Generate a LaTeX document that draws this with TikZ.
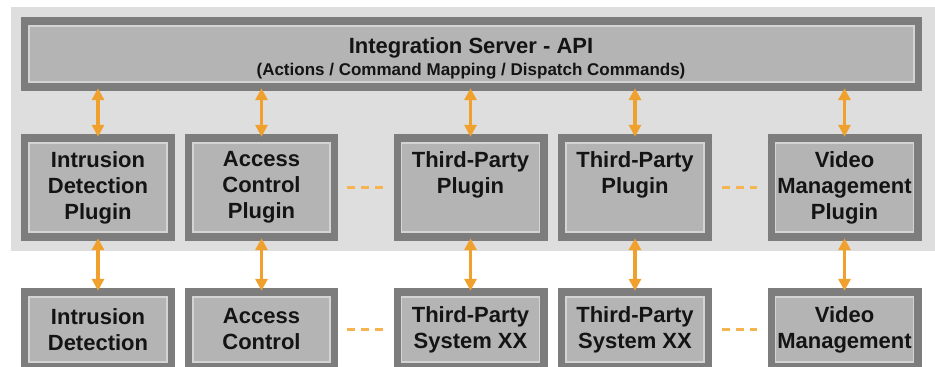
\documentclass[tikz,border=0pt]{standalone}
\usepackage{fontspec}
\setmainfont{Liberation Sans}
\usetikzlibrary{arrows.meta}
\definecolor{panel}{RGB}{221,222,221}
\definecolor{outerg}{RGB}{125,125,125}
\definecolor{innerg}{RGB}{180,180,180}
\definecolor{lineg}{RGB}{212,212,212}
\definecolor{orng}{RGB}{240,160,45}
\definecolor{orngl}{RGB}{245,180,80}
\definecolor{txt}{RGB}{20,20,20}
\tikzset{
  framebox/.style={rectangle, fill=outerg, inner sep=0pt, align=center, text=txt,
    font=\bfseries\fontsize{22}{26}\selectfont,
    path picture={\draw[lineg, line width=1.5pt, fill=innerg]
      ([shift={(8pt,-9pt)}]path picture bounding box.north west) rectangle
      ([shift={(-8pt,9pt)}]path picture bounding box.south east);}},
  plugbox/.style={framebox, minimum width=154pt, minimum height=107pt},
  sysbox/.style={framebox, minimum width=154pt, minimum height=83pt},
  link/.style={{Triangle[width=12pt,length=12pt]}-{Triangle[width=12pt,length=12pt]},
    orng, line width=3.5pt, shorten <=-3pt, shorten >=-3pt},
  more/.style={orngl, line width=3pt, dash pattern=on 8pt off 6pt}
}
\begin{document}
\begin{tikzpicture}[x=1pt, y=-1pt]
\useasboundingbox (0,0) rectangle (935,367);
\fill[panel] (11,7) rectangle (935,251);

\node[framebox, minimum width=901pt, minimum height=74pt] (srv) at (471.5,54) {};
\node[text=txt, font=\bfseries, align=center] (srvtext) at (471,58.5)
  {{\fontsize{22}{24}\selectfont Integration Server - API}\\[4pt]
   {\fontsize{17}{20}\selectfont (Actions / Command Mapping / Dispatch Commands)}};

\node[plugbox] (p1) at (98,187.5) {Intrusion\\Detection\\Plugin};
\node[plugbox, minimum width=153pt] (p2) at (261.5,187.5) {Access\\Control\\Plugin};
\node[plugbox] (p3) at (470.5,187.5) {Third-Party\\Plugin\\\phantom{Plugin}};
\node[plugbox] (p4) at (635,187.5) {Third-Party\\Plugin\\\phantom{Plugin}};
\node[plugbox] (p5) at (844.5,187.5) {Video\\Management\\Plugin};

\node[sysbox] (s1) at (98,329.5) {Intrusion\\Detection};
\node[sysbox, minimum width=153pt] (s2) at (261.5,329.5) {Access\\Control};
\node[sysbox] (s3) at (470.5,329.5) {Third-Party\\System XX};
\node[sysbox] (s4) at (635,329.5) {Third-Party\\System XX};
\node[sysbox] (s5) at (844.5,329.5) {Video\\Management};

\foreach \i in {1,...,5}{
  \draw[link] (p\i.north |- srv.south) -- (p\i.north);
  \draw[link] (p\i.south) -- (s\i.north);
}
\draw[more, shorten <=9pt, shorten >=8pt] (p2.east) -- (p3.west);
\draw[more, shorten <=10pt, shorten >=10pt] (p4.east) -- (p5.west);
\draw[more, shorten <=9pt, shorten >=8pt] (s2.east) -- (s3.west);
\draw[more, shorten <=10pt, shorten >=10pt] (s4.east) -- (s5.west);
\end{tikzpicture}
\end{document}
